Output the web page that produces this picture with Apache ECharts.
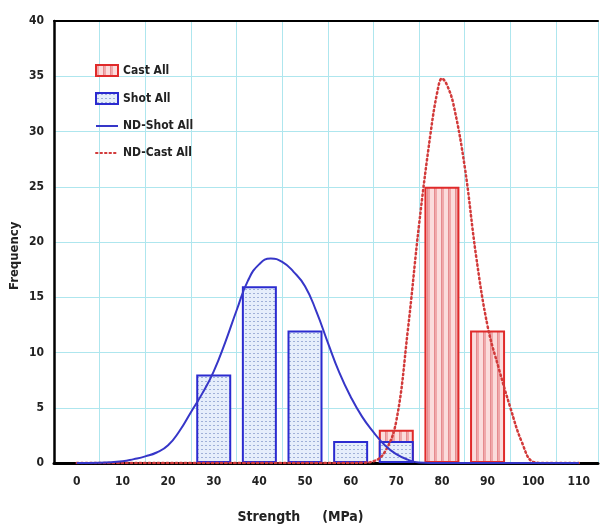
<!DOCTYPE html>
<html><head><meta charset="utf-8">
<script src="https://cdn.jsdelivr.net/npm/echarts@6/dist/echarts.min.js"></script>
<style>html,body{margin:0;padding:0;background:#fff}#c{width:601px;height:531px}</style>
</head><body><div id="c"></div>
<script>
// ---- data ----
const shotBins = [30, 40, 50, 60, 70];
const shotFreq = [8, 16, 12, 2, 2];
const castBins = [70, 80, 90];
const castFreq = [3, 25, 12];
const ndShotX = [0,5,10,12.5,15,17.5,20,22.5,25,27.5,30,32.5,35,37.5,40,42.5,45,47.5,50,52.5,55,57.5,60,62.5,65,67.5,70,72.5,75,80,90,100,110];
const ndShotY = [0,0.02,0.15,0.35,0.6,0.95,1.6,2.9,4.6,6.3,8.3,10.9,13.8,16.5,18.0,18.5,18.2,17.3,16.0,13.7,10.9,8.2,6.0,4.2,2.8,1.6,0.8,0.3,0.05,0,0,0,0];
const ndCastX = [0,60,62.5,65,67.5,70,72.5,75,77.5,79,80,81,82.5,85,87.5,90,92.5,95,97.5,100,102.5,110];
const ndCastY = [0,0,0.02,0.15,1.0,3.8,11.9,21.6,29.8,33.6,34.8,34.3,32.5,26.8,18.7,12.4,8.5,5.0,1.9,0.1,0,0];
const xTickLabels = [0,10,20,30,40,50,60,70,80,90,100,110];
const yTickLabels = [0,5,10,15,20,25,30,35,40];

const FONT = "'Liberation Sans Narrow','DejaVu Sans Condensed','Liberation Sans',sans-serif";

function makePattern(w, h, draw) {
  const c = document.createElement('canvas');
  c.width = w; c.height = h;
  draw(c.getContext('2d'));
  return { image: c, repeat: 'repeat' };
}
const castPattern = makePattern(7, 4, g => {
  g.fillStyle = '#fbdcdc'; g.fillRect(0, 0, 7, 4);
  g.fillStyle = '#f0a8aa'; g.fillRect(0, 0, 3, 4);
  g.fillStyle = '#e58a8e'; g.fillRect(0, 0, 1, 4);
});
const shotPattern = makePattern(4, 4, g => {
  g.fillStyle = '#e6eefb'; g.fillRect(0, 0, 4, 4);
  g.fillStyle = '#9fb0d8'; g.fillRect(1, 1, 2, 1);
});

const chart = echarts.init(document.getElementById('c'), null, { renderer: 'canvas' });
chart.setOption({
  animation: false,
  backgroundColor: '#ffffff',
  grid: { left: 54, right: 0, top: 21, bottom: 68 },
  legend: {
    orient: 'vertical', left: 95, top: 64, padding: 0, itemGap: 15, itemWidth: 22, itemHeight: 11,
    textStyle: { fontFamily: FONT, fontWeight: 'bold', fontSize: 12, color: '#222' },
    data: [
      { name: 'Cast All', icon: 'rect' },
      { name: 'Shot All', icon: 'rect' },
      { name: 'ND-Shot All', itemStyle: { opacity: 0 } },
      { name: 'ND-Cast All', itemStyle: { opacity: 0 } }
    ]
  },
  xAxis: [
    {
      type: 'value', min: -5, max: 114.2, interval: 5, position: 'bottom',
      axisLine: { show: true, onZero: false, lineStyle: { color: '#000', width: 3 } },
      axisTick: { show: false },
      splitLine: { show: false },
      axisLabel: {
        margin: 13, fontFamily: FONT, fontWeight: 'bold', fontSize: 12, color: '#222',
        formatter: v => (xTickLabels.indexOf(v) >= 0 ? String(v) : '')
      }
    },
    {
      type: 'value', min: -5, max: 114.2, interval: 10, position: 'top',
      axisLine: { show: true, onZero: false, lineStyle: { color: '#000', width: 2 } },
      axisTick: { show: false }, axisLabel: { show: false },
      splitLine: { show: true, lineStyle: { color: '#aee6ee', width: 1 } }
    }
  ],
  yAxis: {
    type: 'value', min: 0, max: 40, interval: 5,
    axisLine: { show: true, onZero: false, lineStyle: { color: '#000', width: 2.5 } },
    axisTick: { show: false },
    splitLine: { show: true, lineStyle: { color: '#aee6ee', width: 1 } },
    axisLabel: {
      margin: 10, fontFamily: FONT, fontWeight: 'bold', fontSize: 12, color: '#222',
      formatter: v => (yTickLabels.indexOf(v) >= 0 ? String(v) : '')
    }
  },
  graphic: [
    { type: 'text', left: 'center', top: 510, style: { text: 'Strength     (MPa)', font: "bold 14px " + FONT, fill: '#222' } },
    { type: 'text', x: 8, y: 290, rotation: Math.PI / 2, style: { text: 'Frequency', font: "bold 13px " + FONT, fill: '#222' } }
  ],
  series: [
    {
      name: 'Cast All', type: 'bar', barWidth: 35, barGap: '-100%', z: 2,
      itemStyle: { color: castPattern, borderColor: '#e02a2a', borderWidth: 2 },
      data: castBins.map((x, i) => [x, castFreq[i]])
    },
    {
      name: 'Shot All', type: 'bar', barWidth: 35, barGap: '-100%', z: 3,
      itemStyle: { color: shotPattern, borderColor: '#2b2bd0', borderWidth: 2 },
      data: shotBins.map((x, i) => [x, shotFreq[i]])
    },
    {
      name: 'ND-Shot All', type: 'line', smooth: 0.5, symbol: 'none', z: 5,
      lineStyle: { color: '#3636c8', width: 2 }, itemStyle: { color: '#3636c8' },
      data: ndShotX.map((x, i) => [x, ndShotY[i]])
    },
    {
      name: 'ND-Cast All', type: 'line', smooth: 0.4, symbol: 'none', z: 4,
      lineStyle: { color: '#d23a3a', width: 2.5, type: [1.5, 3], cap: 'round' }, itemStyle: { color: '#d23a3a' },
      data: ndCastX.map((x, i) => [x, ndCastY[i]])
    }
  ]
});
</script></body></html>
